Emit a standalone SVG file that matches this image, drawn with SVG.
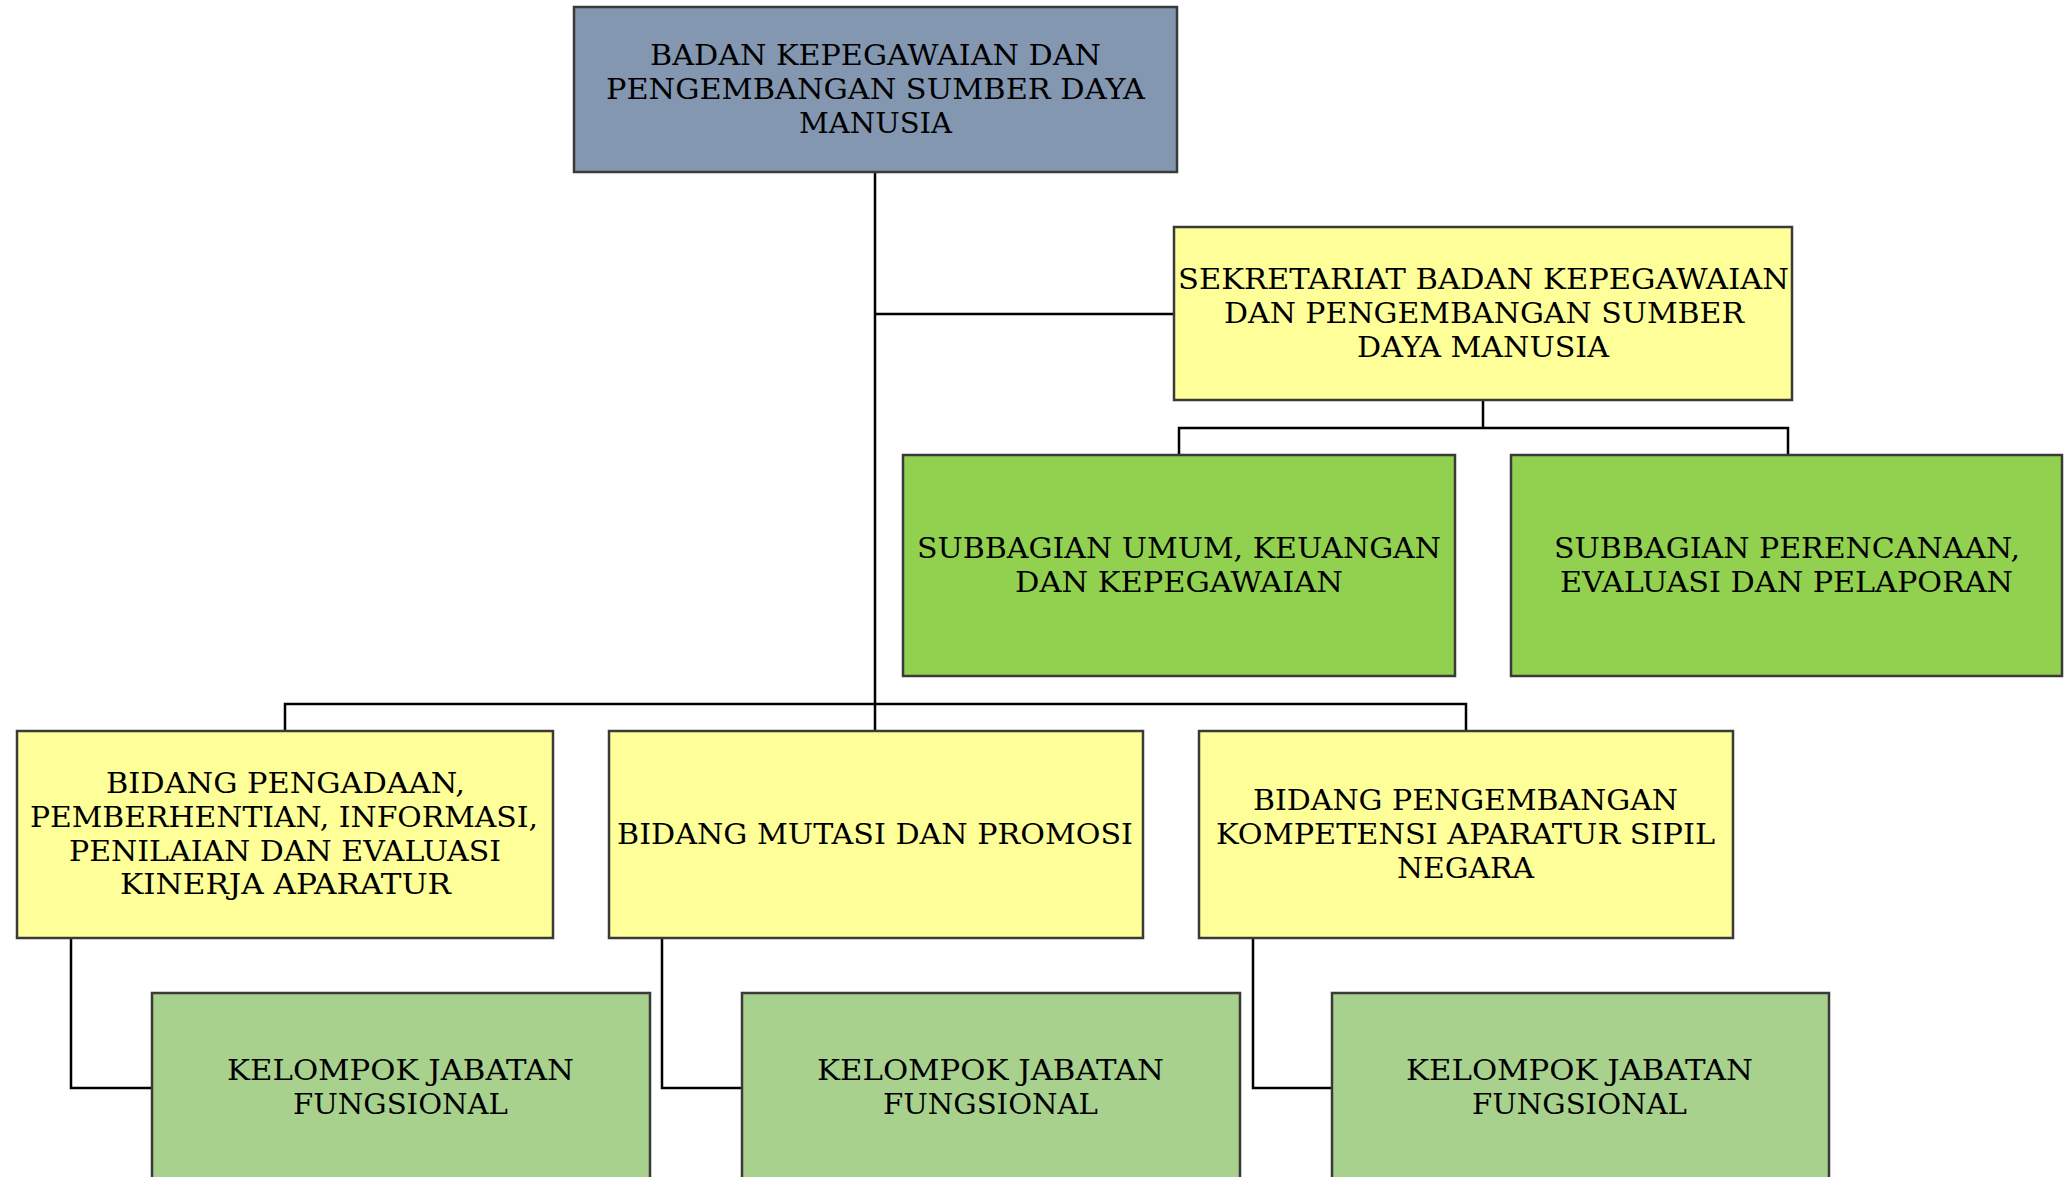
<svg xmlns="http://www.w3.org/2000/svg" width="2070" height="1177" viewBox="0 0 2070 1177">
<style>
.box{stroke:#3a3a3a;stroke-width:2.5}
.top{fill:#8497B0}
.yel{fill:#FFFF99}
.grn{fill:#92D050}
.lgr{fill:#A9D18E}
.conn{fill:none;stroke:#000;stroke-width:2.5}
text{font-family:"DejaVu Serif","Liberation Serif",serif;font-size:27px;fill:#000}
</style>
<rect width="2070" height="1177" fill="#fff"/>
<g id="connectors">
<polyline class="conn" points="875,172 875,731"/>
<polyline class="conn" points="875,314 1174,314"/>
<polyline class="conn" points="1483,400 1483,428"/>
<polyline class="conn" points="1179,455 1179,428 1788,428 1788,455"/>
<polyline class="conn" points="285,731 285,704 1466,704 1466,731"/>
<polyline class="conn" points="71,938 71,1088 152,1088"/>
<polyline class="conn" points="662,938 662,1088 742,1088"/>
<polyline class="conn" points="1253,938 1253,1088 1332,1088"/>
</g>
<g id="badan">
<rect class="box top" x="574" y="7" width="603" height="165"/>
<text x="650" y="65" textLength="451" lengthAdjust="spacingAndGlyphs">BADAN KEPEGAWAIAN DAN</text>
<text x="606" y="99" textLength="539" lengthAdjust="spacingAndGlyphs">PENGEMBANGAN SUMBER DAYA</text>
<text x="799" y="133" textLength="153" lengthAdjust="spacingAndGlyphs">MANUSIA</text>
</g>
<g id="sekretariat">
<rect class="box yel" x="1174" y="227" width="618" height="173"/>
<text x="1178" y="289" textLength="611" lengthAdjust="spacingAndGlyphs">SEKRETARIAT BADAN KEPEGAWAIAN</text>
<text x="1224" y="323" textLength="520" lengthAdjust="spacingAndGlyphs">DAN PENGEMBANGAN SUMBER</text>
<text x="1357" y="357" textLength="252" lengthAdjust="spacingAndGlyphs">DAYA MANUSIA</text>
</g>
<g id="subbagian-umum">
<rect class="box grn" x="903" y="455" width="552" height="221"/>
<text x="917" y="558" textLength="524" lengthAdjust="spacingAndGlyphs">SUBBAGIAN UMUM, KEUANGAN</text>
<text x="1015" y="592" textLength="328" lengthAdjust="spacingAndGlyphs">DAN KEPEGAWAIAN</text>
</g>
<g id="subbagian-perencanaan">
<rect class="box grn" x="1511" y="455" width="551" height="221"/>
<text x="1554" y="558" textLength="466" lengthAdjust="spacingAndGlyphs">SUBBAGIAN PERENCANAAN,</text>
<text x="1560" y="592" textLength="453" lengthAdjust="spacingAndGlyphs">EVALUASI DAN PELAPORAN</text>
</g>
<g id="bidang-pengadaan">
<rect class="box yel" x="17" y="731" width="536" height="207"/>
<text x="106" y="793" textLength="359" lengthAdjust="spacingAndGlyphs">BIDANG PENGADAAN,</text>
<text x="30" y="827" textLength="508" lengthAdjust="spacingAndGlyphs">PEMBERHENTIAN, INFORMASI,</text>
<text x="69" y="861" textLength="432" lengthAdjust="spacingAndGlyphs">PENILAIAN DAN EVALUASI</text>
<text x="120" y="894" textLength="331" lengthAdjust="spacingAndGlyphs">KINERJA APARATUR</text>
</g>
<g id="bidang-mutasi">
<rect class="box yel" x="609" y="731" width="534" height="207"/>
<text x="617" y="844" textLength="516" lengthAdjust="spacingAndGlyphs">BIDANG MUTASI DAN PROMOSI</text>
</g>
<g id="bidang-pengembangan">
<rect class="box yel" x="1199" y="731" width="534" height="207"/>
<text x="1253" y="810" textLength="425" lengthAdjust="spacingAndGlyphs">BIDANG PENGEMBANGAN</text>
<text x="1216" y="844" textLength="499" lengthAdjust="spacingAndGlyphs">KOMPETENSI APARATUR SIPIL</text>
<text x="1397" y="878" textLength="137" lengthAdjust="spacingAndGlyphs">NEGARA</text>
</g>
<g id="kelompok-1">
<rect class="box lgr" x="152" y="993" width="498" height="200"/>
<text x="227" y="1080" textLength="347" lengthAdjust="spacingAndGlyphs">KELOMPOK JABATAN</text>
<text x="293" y="1114" textLength="215" lengthAdjust="spacingAndGlyphs">FUNGSIONAL</text>
</g>
<g id="kelompok-2">
<rect class="box lgr" x="742" y="993" width="498" height="200"/>
<text x="817" y="1080" textLength="347" lengthAdjust="spacingAndGlyphs">KELOMPOK JABATAN</text>
<text x="883" y="1114" textLength="215" lengthAdjust="spacingAndGlyphs">FUNGSIONAL</text>
</g>
<g id="kelompok-3">
<rect class="box lgr" x="1332" y="993" width="497" height="200"/>
<text x="1406" y="1080" textLength="347" lengthAdjust="spacingAndGlyphs">KELOMPOK JABATAN</text>
<text x="1472" y="1114" textLength="215" lengthAdjust="spacingAndGlyphs">FUNGSIONAL</text>
</g>
</svg>
